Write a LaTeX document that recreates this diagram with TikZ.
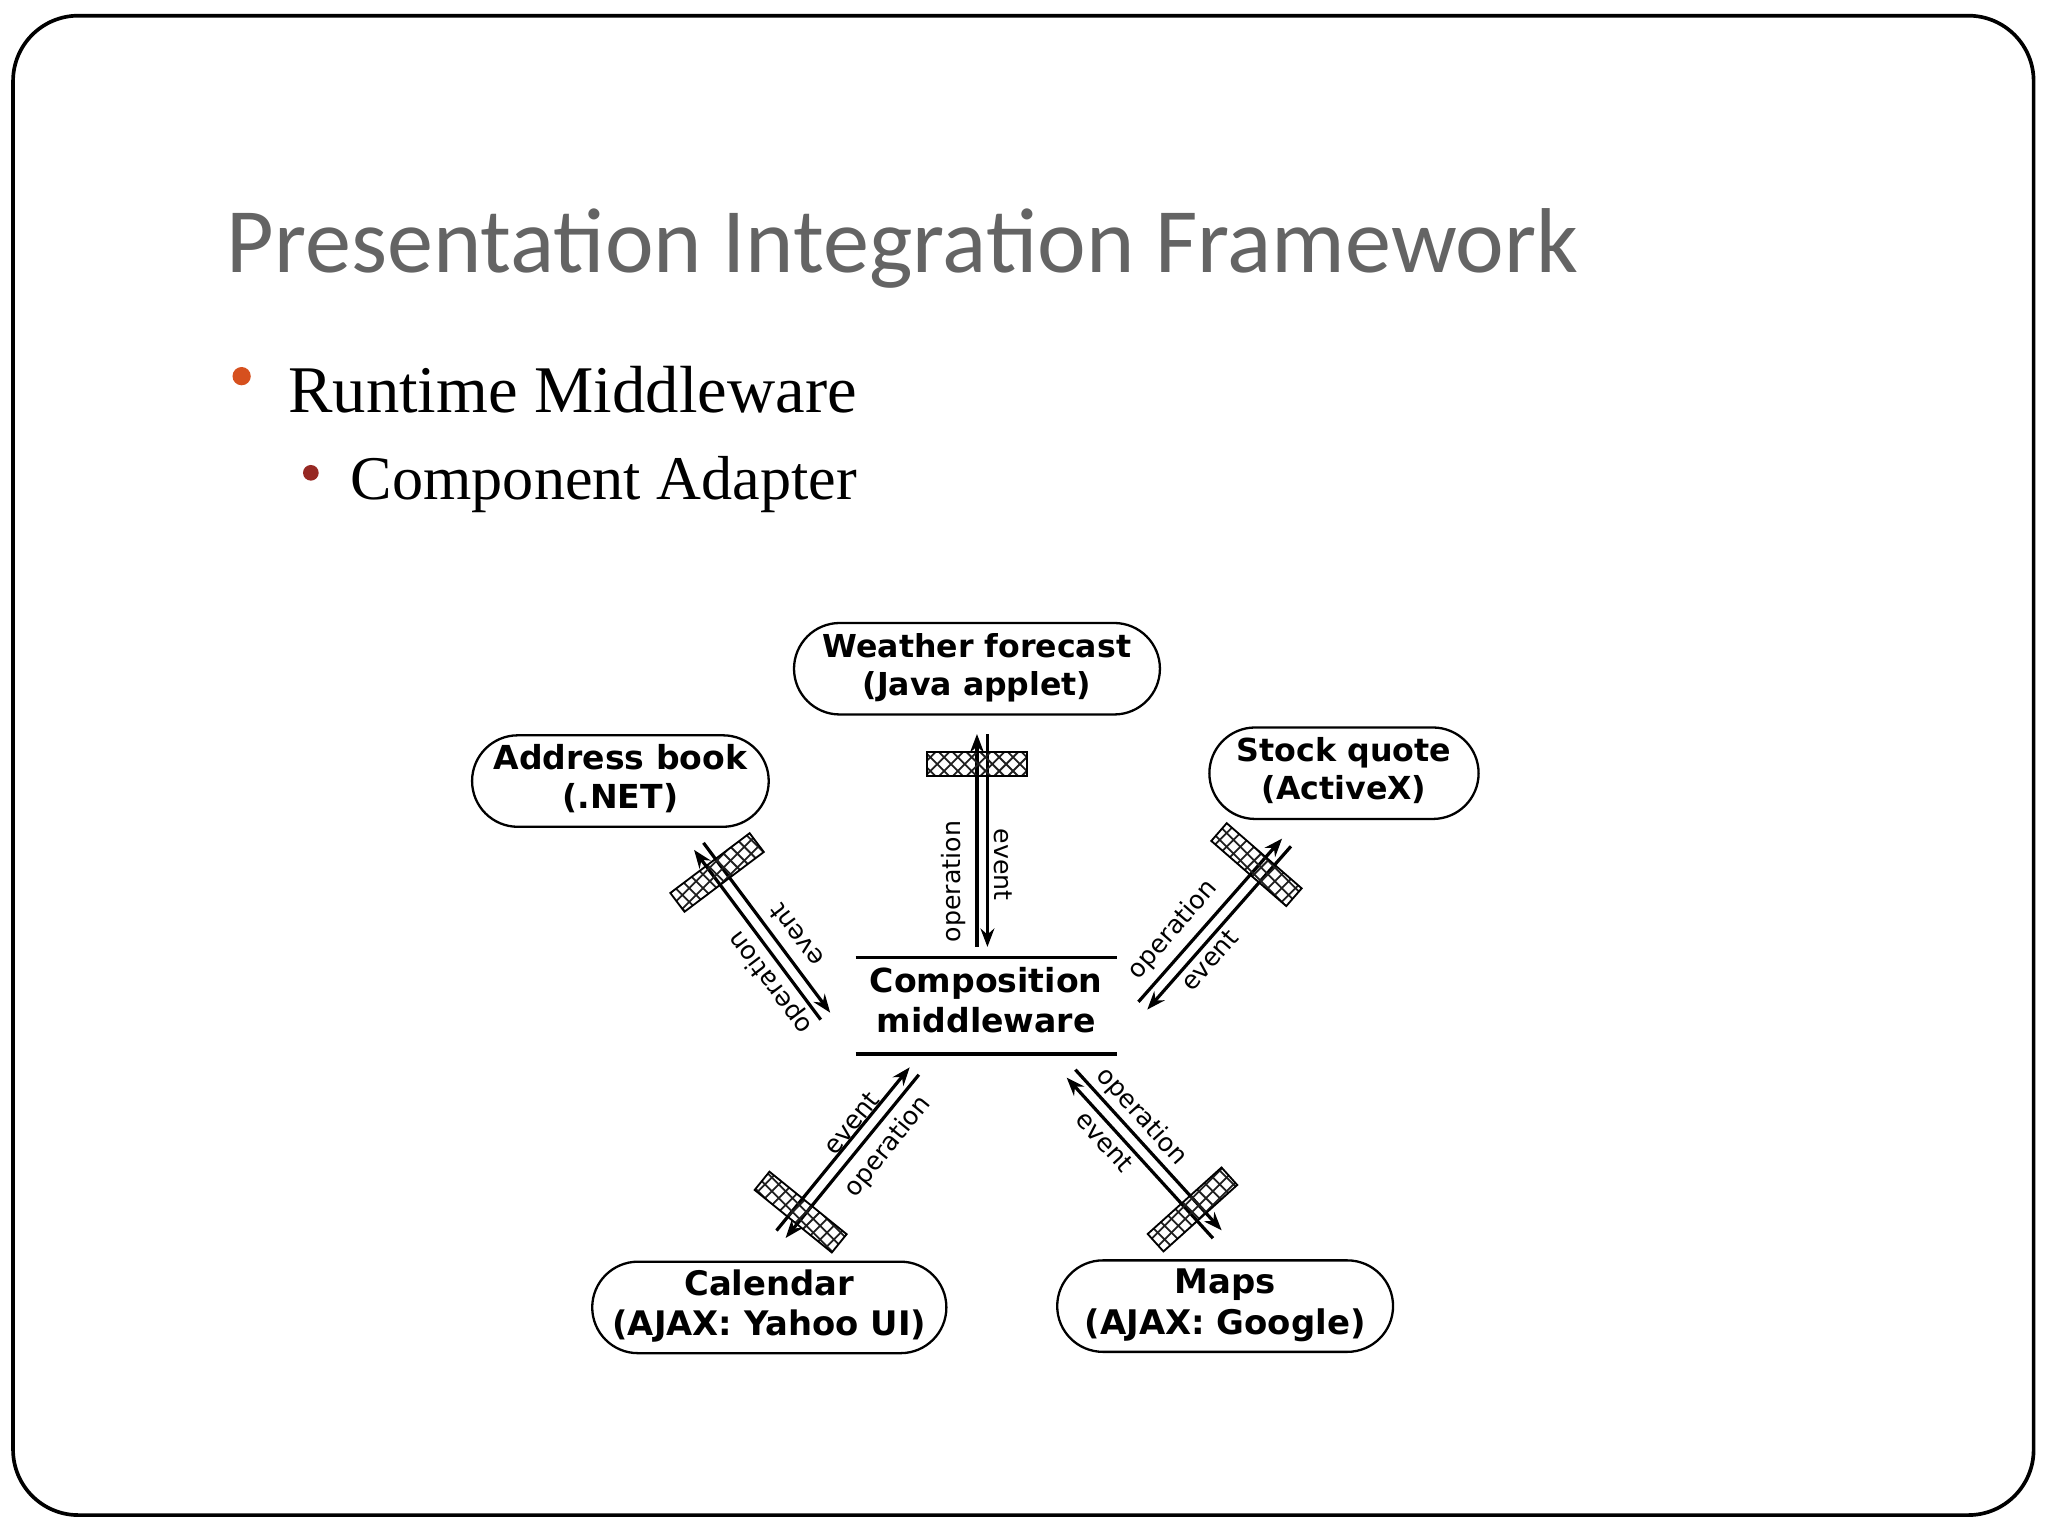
\documentclass[tikz,border=0pt]{standalone}
\usepackage{fontspec}
\setmainfont{Liberation Serif}
\newfontfamily\titlefont{Carlito}
\newfontfamily\dfont{DejaVu Sans}
\usetikzlibrary{patterns,calc,arrows.meta}
\definecolor{tgray}{RGB}{100,100,100}
\definecolor{borange}{RGB}{214,80,30}
\definecolor{bred}{RGB}{150,40,35}
\tikzset{
 pill/.style={draw,rounded corners=0.35cm,minimum width=#1,minimum height=0.7cm,line width=0.5pt},
 lbl/.style={font=\dfont\bfseries,align=center,inner sep=0},
 small/.style={font=\dfont\fontsize{5.5}{6}\selectfont,inner sep=1pt},
 hatch/.style={draw,line width=0.4pt,fill=gray!55,pattern color=gray!25!black,minimum width=0.76cm,minimum height=0.18cm,inner sep=0},
 arr/.style={line width=0.7pt,-{Stealth[length=4pt,width=3pt]}}
}
\begin{document}
\begin{tikzpicture}[x=0.01cm,y=-0.01cm]
\useasboundingbox (0,0) rectangle (1568,1176);
\draw[line width=0.8pt,rounded corners=0.5cm] (10,12) rectangle (1557,1160);
\node[anchor=west,text=tgray,inner sep=0] (title) at (173,190) {\resizebox{10.34cm}{!}{\titlefont Presentation Integration Framework}};
\fill[borange] (185,288) circle (7);
\node[anchor=west,inner sep=0] (b1) at (220,298) {\resizebox{4.35cm}{!}{Runtime Middleware}};
\fill[bred] (238,362) circle (6);
\node[anchor=west,inner sep=0] (b2) at (268,371) {\resizebox{3.87cm}{!}{Component Adapter}};
% components
\node[pill=2.8cm] (w) at (748,512) {};
\node[lbl] at (w) {\resizebox{2.36cm}{!}{\begin{tabular}{@{}c@{}}Weather forecast\\(Java applet)\end{tabular}}};
\node[pill=2.27cm] (a) at (475,598) {};
\node[lbl] at (a) {\resizebox{1.94cm}{!}{\begin{tabular}{@{}c@{}}Address book\\(.NET)\end{tabular}}};
\node[pill=2.06cm] (s) at (1029,592) {};
\node[lbl] at (s) {\resizebox{1.64cm}{!}{\begin{tabular}{@{}c@{}}Stock quote\\(ActiveX)\end{tabular}}};
\node[pill=2.71cm] (c) at (589,1001) {};
\node[lbl] at (c) {\resizebox{2.4cm}{!}{\begin{tabular}{@{}c@{}}Calendar\\(AJAX: Yahoo UI)\end{tabular}}};
\node[pill=2.57cm] (m) at (938,1000) {};
\node[lbl] at (m) {\resizebox{2.15cm}{!}{\begin{tabular}{@{}c@{}}Maps\\(AJAX: Google)\end{tabular}}};
% middleware
\node[lbl] (mw) at (755,769) {\resizebox{1.78cm}{!}{\begin{tabular}{@{}c@{}}Composition\\middleware\end{tabular}}};
\coordinate (l1a) at (655,733); \coordinate (l1b) at (855,733);
\coordinate (l2a) at (655,807); \coordinate (l2b) at (855,807);
\draw[line width=0.8pt] (l1a) -- (l1b);
\draw[line width=0.8pt] (l2a) -- (l2b);
% vertical
\coordinate (v1) at (752,562); \coordinate (v2) at (752,725);
\draw[arr] ($(v2)+(-4,0)$) -- ($(v1)+(-4,0)$);
\draw[arr] ($(v1)+(4,0)$) -- ($(v2)+(4,0)$);
\node[hatch,pattern=crosshatch] (hw) at (748,585) {};
\node[small,rotate=90] at (730,675) {operation};
\node[small,rotate=-90] at (768,662) {event};
% address
\coordinate (a1) at (535,648); \coordinate (a2) at (632,778);
\draw[arr] ($(a1)!0.045cm!90:(a2)$) -- ($(a2)!0.045cm!-90:(a1)$);
\draw[arr] ($(a2)!0.045cm!90:(a1)$) -- ($(a1)!0.045cm!-90:(a2)$);
\node[hatch,pattern=crosshatch,rotate=37] at (549,668) {};
\node[small,rotate=127] at (610,716) {event};
\node[small,rotate=127] at (590,752) {operation};
% stock
\coordinate (s1) at (985,645); \coordinate (s2) at (875,770);
\draw[arr] ($(s2)!0.045cm!90:(s1)$) -- ($(s1)!0.045cm!-90:(s2)$);
\draw[arr] ($(s1)!0.045cm!90:(s2)$) -- ($(s2)!0.045cm!-90:(s1)$);
\node[hatch,pattern=crosshatch,rotate=-41] at (962,662) {};
\node[small,rotate=49] at (898,712) {operation};
\node[small,rotate=49] at (926,735) {event};
% calendar
\coordinate (c1) at (598,945); \coordinate (c2) at (700,820);
\draw[arr] ($(c2)!0.045cm!90:(c1)$) -- ($(c1)!0.045cm!-90:(c2)$);
\draw[arr] ($(c1)!0.045cm!90:(c2)$) -- ($(c2)!0.045cm!-90:(c1)$);
\node[hatch,pattern=crosshatch,rotate=-39] at (613,928) {};
\node[small,rotate=51] at (652,860) {event};
\node[small,rotate=51] at (680,878) {operation};
% maps
\coordinate (m1) at (932,945); \coordinate (m2) at (820,822);
\draw[arr] ($(m2)!0.045cm!90:(m1)$) -- ($(m1)!0.045cm!-90:(m2)$);
\draw[arr] ($(m1)!0.045cm!90:(m2)$) -- ($(m2)!0.045cm!-90:(m1)$);
\node[hatch,pattern=crosshatch,rotate=42] at (913,926) {};
\node[small,rotate=-48] at (874,855) {operation};
\node[small,rotate=-48] at (846,874) {event};
\end{tikzpicture}
\end{document}
